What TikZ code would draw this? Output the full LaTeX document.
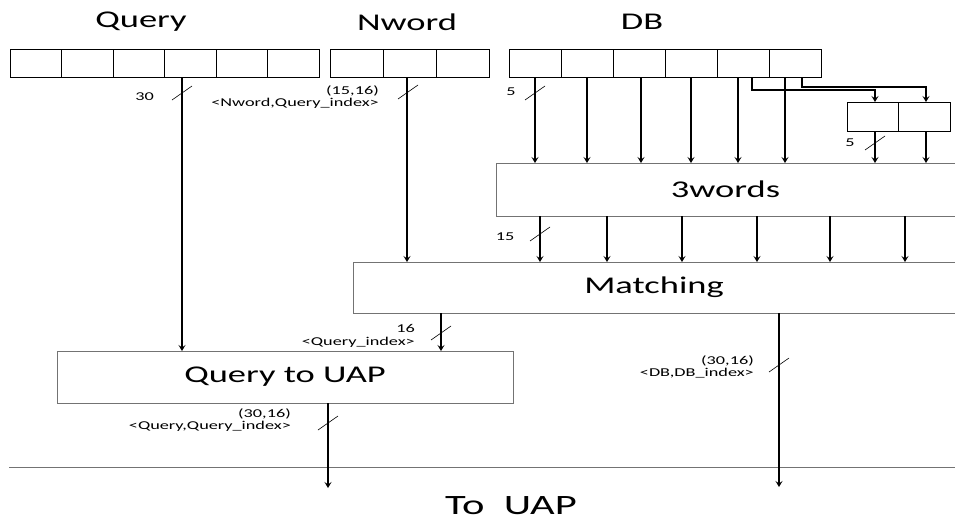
\documentclass[tikz,border=0pt]{standalone}
\usepackage{fontspec}
\setmainfont{Carlito}[FakeStretch=1.52]
\usetikzlibrary{arrows.meta}
\begin{document}
\begin{tikzpicture}[x=1pt,y=-1pt,
  cell/.style={draw=black, line width=0.9pt, minimum height=28pt, inner sep=0pt, outer sep=0pt},
  bigbox/.style={inner sep=0pt, outer sep=0pt, font=\fontsize{24}{28}\selectfont},
  boxline/.style={draw=black!55, line width=1pt},
  title/.style={font=\fontsize{24}{28}\selectfont},
  small/.style={font=\fontsize{12}{12.5}\selectfont, inner sep=0pt, align=right},
  arr/.style={line width=1.3pt, -{Stealth[length=6pt,width=7pt,inset=2.5pt]}},
  tick/.style={line width=0.6pt}
]
\fill[white] (0,0) rectangle (955,523);
\useasboundingbox (0,0) rectangle (955,523);

% titles
\node[title] (tq) at (141,22) {Query};
\node[title] (tn) at (407,22) {Nword};
\node[title] (td) at (642,22) {DB};

% cells
\foreach \i in {1,...,6}
  \node[cell, minimum width=51.5pt] (q\i) at ({10+51.5*(\i-0.5)},63) {};
\foreach \i in {1,...,3}
  \node[cell, minimum width=53pt] (n\i) at ({330+53*(\i-0.5)},63) {};
\foreach \i in {1,...,6}
  \node[cell, minimum width=52pt] (d\i) at ({509+52*(\i-0.5)},63) {};
\node[cell, minimum width=51.5pt, minimum height=29pt] (sb1) at (872.75,116.5) {};
\node[cell, minimum width=51.5pt, minimum height=29pt] (sb2) at (924.25,116.5) {};

% big boxes
\node[bigbox, minimum width=459pt, minimum height=53pt] (tw) at (725.5,189.5) {3words};
\draw[boxline] (tw.north east) -- (tw.north west) -- (tw.south west) -- (tw.south east);
\node[bigbox, minimum width=602pt, minimum height=51pt] (mt) at (654,287.5) {Matching};
\draw[boxline] (mt.north east) -- (mt.north west) -- (mt.south west) -- (mt.south east);
\node[bigbox, boxline, minimum width=456pt, minimum height=52pt] (qu) at (285,377) {Query to UAP};

% columns
\coordinate (cQ) at (182,0);
\coordinate (cN) at (407,0);
\foreach \n/\x in {1/535,2/587,3/641,4/691,5/738,6/785}
  \coordinate (k\n) at (\x,0);
\coordinate (b1) at (752,0);
\coordinate (b2) at (802,0);
\coordinate (s1) at (875,0);
\coordinate (s2) at (926,0);
\foreach \n/\x in {1/540,2/607,3/682,4/757,5/830,6/905}
  \coordinate (m\n) at (\x,0);
\coordinate (cI) at (441,0);
\coordinate (cO) at (779,0);
\coordinate (cU) at (328,0);
\coordinate (endR) at (779,487);
\coordinate (endL) at (328,488);
\coordinate (hl) at (9,467);
\coordinate (hr) at (955,467);

% arrows
\draw[arr] (q4.south -| cQ) -- (qu.north -| cQ);
\draw[arr] (n2.south -| cN) -- (mt.north -| cN);
\foreach \n in {1,...,6}
  \draw[arr] (d\n.south -| k\n) -- (tw.north -| k\n);
\draw[arr] (d5.south -| b1) -- ++(0,13) -| (sb1.north -| s1);
\draw[arr] (d6.south -| b2) -- ++(0,10) -| (sb2.north -| s2);
\draw[arr] (sb1.south -| s1) -- (tw.north -| s1);
\draw[arr] (sb2.south -| s2) -- (tw.north -| s2);
\foreach \n in {1,...,6}
  \draw[arr] (tw.south -| m\n) -- (mt.north -| m\n);
\draw[arr] (mt.south -| cI) -- (qu.north -| cI);
\draw[line width=1pt, draw=black!55] (hl) -- (hr);
\draw[arr] (mt.south -| cO) -- (endR);
\draw[arr] (qu.south -| cU) -- (endL);

% ticks
\foreach \p in {(182,93),(408,92),(535,93),(875,143),(540,234),(441,333),(328,423),(779,365)}
  \draw[tick] \p ++(-10,7) -- ++(20,-14);

% labels
\node[small, anchor=east] (l30) at (154,97) {30};
\node[small, anchor=east] (lnw) at (379,97) {(15,16)\\<Nword,Query\_index>};
\node[small] (l5a) at (511,92) {5};
\node[small] (l5b) at (850,143) {5};
\node[small] (l15) at (505,237) {15};
\node[small, anchor=east] (l16) at (415,336) {16\\<Query\_index>};
\node[small, anchor=east] (lqq) at (291,420) {(30,16)\\<Query,Query\_index>};
\node[small, anchor=east] (ldb) at (754,367) {(30,16)\\<DB,DB\_index>};

\node[font=\fontsize{28}{32}\selectfont] (tu) at (511,506) {To\ \ UAP};
\end{tikzpicture}
\end{document}
